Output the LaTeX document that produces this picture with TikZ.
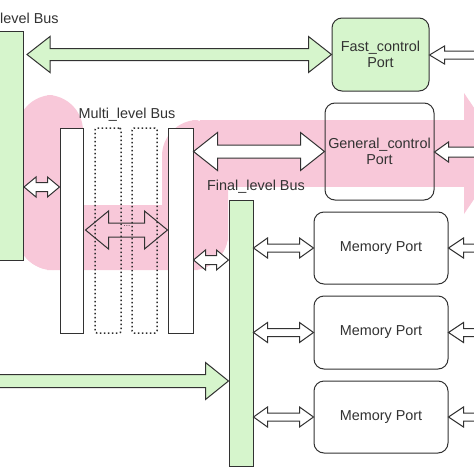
\documentclass[tikz,border=0pt]{standalone}
\usepackage{fontspec}
\setmainfont{Liberation Sans}
\usetikzlibrary{calc}
\definecolor{gfill}{RGB}{214,245,204}
\definecolor{pinkb}{RGB}{248,200,217}
\definecolor{ink}{RGB}{50,50,50}
\tikzset{
 base/.style={draw=ink, line width=1pt},
 gbar/.style={base, fill=gfill, rectangle, inner sep=0pt},
 wbar/.style={base, fill=white, rectangle, inner sep=0pt},
 dbar/.style={draw=ink!90!black, line width=1.5pt, dash pattern=on 1.5pt off 2.5pt, rounded corners=2pt, rectangle, inner sep=0pt},
 port/.style={base, rounded corners=10pt, rectangle, inner sep=0pt, align=center, font=\fontsize{14.4}{16.5}\selectfont, text=ink},
 lbl/.style={inner sep=0pt, font=\fontsize{14.4}{16.5}\selectfont, text=ink},
 wa/.style={base, fill=white, line join=miter},
 ga/.style={base, fill=gfill, line join=miter},
 na/.style={base, line join=miter},
 pinkfill/.style={fill=pinkb, draw=none},
}
\newcommand{\dblarr}[6]{\draw[#6] let \p1=(#1), \p2=(#2) in (\x1,\y1) -- (\x1+#3,\y1+#4) -- (\x1+#3,\y1+#5) -- (\x2-#3,\y1+#5) -- (\x2-#3,\y1+#4) -- (\x2,\y1) -- (\x2-#3,\y1-#4) -- (\x2-#3,\y1-#5) -- (\x1+#3,\y1-#5) -- (\x1+#3,\y1-#4) -- cycle;}
\newcommand{\sglarr}[6]{\draw[#6] let \p1=(#1), \p2=(#2) in (\x1,\y1+#5) -- ({\x2-#3},\y1+#5) -- ({\x2-#3},\y1+#4) -- (\x2,\y1) -- ({\x2-#3},\y1-#4) -- ({\x2-#3},\y1-#5) -- (\x1,\y1-#5) -- cycle;}
\newcommand{\sglarrl}[6]{\draw[#6] let \p1=(#1), \p2=(#2) in (\x1,\y1+#5) -- ({\x2+#3},\y1+#5) -- ({\x2+#3},\y1+#4) -- (\x2,\y1) -- ({\x2+#3},\y1-#4) -- ({\x2+#3},\y1-#5) -- (\x1,\y1-#5) -- cycle;}
\begin{document}
\begin{tikzpicture}[x=1pt,y=-1pt]
\useasboundingbox (0,0) rectangle (474,474);
\clip (0,0) rectangle (474,474);
\fill[white] (0,0) rectangle (474,474);
% pink flow arrow
\fill[pinkfill, rounded corners=36pt] (17,95) rectangle (83,270);
\fill[pinkfill, rounded corners=36pt] (17,205) rectangle (228,270);
\fill[pinkfill, rounded corners=36pt] (162,120) rectangle (228,270);
\fill[pinkfill] (200,120) rectangle (466,187);
\fill[pinkfill] (464,93) -- (505,153.5) -- (464,214) -- cycle;
% buses
\node[gbar, minimum width=25pt, minimum height=229pt, anchor=north west] (tbus) at (-2,31) {};
\node[lbl, anchor=base west] (tlabel) at (0,23) {level Bus};
\node[wbar, minimum width=23pt, minimum height=205pt] (mL) at (71.5,230.5) {};
\node[dbar, minimum width=26pt, minimum height=205pt] (d1) at (108,230.5) {};
\node[dbar, minimum width=25pt, minimum height=205pt] (d2) at (144.5,230.5) {};
\node[wbar, minimum width=25pt, minimum height=205pt] (mR) at (180.5,230.5) {};
\node[lbl] (mlabel) at (127,115) {Multi\_level Bus};
\node[lbl] (flabel) at (256,187) {Final\_level Bus};
\node[gbar, minimum width=24pt, minimum height=266pt] (fbus) at (241,333) {};
% ports
\node[port, fill=gfill, minimum width=97pt, minimum height=73pt] (fast) at (380.5,54.5) {Fast\_control\\Port};
\node[port, minimum width=109pt, minimum height=97pt] (gen) at (379.5,151.5) {General\_control\\Port};
\node[port, fill=white, minimum width=134pt, minimum height=72pt] (m1) at (381,248) {Memory Port};
\node[port, fill=white, minimum width=134pt, minimum height=73pt] (m2) at (381,332.5) {Memory Port};
\node[port, fill=white, minimum width=134pt, minimum height=72pt] (m3) at (381,417) {Memory Port};
% helper coordinates
\coordinate (c1) at (0,187);
\coordinate (c2) at (0,230);
\coordinate (c3) at (0,260);
\coordinate (gs) at (-5,381);
\coordinate (fe) at (490,55);
\coordinate (ge) at (490,152);
% connectors
\dblarr{$(tbus.east |- fast.west)+(3,0)$}{fast.west}{23pt}{18pt}{6pt}{ga}
\sglarrl{fe}{fast.east}{15pt}{9pt}{4pt}{wa}
\dblarr{tbus.east |- c1}{mL.west |- c1}{12pt}{10pt}{4.5pt}{wa}
\dblarr{$(mL.east |- c2)+(2,0)$}{mR.west |- c2}{23pt}{19pt}{7pt}{na}
\node[lbl, font=\fontsize{8}{8}\selectfont] (dots) at (127,226) {...};
\dblarr{mR.east |- gen.west}{gen.west}{24pt}{19pt}{6.5pt}{wa}
\sglarrl{ge}{gen.east}{14pt}{10pt}{5pt}{wa}
\dblarr{mR.east |- c3}{fbus.west |- c3}{12pt}{10pt}{4.5pt}{wa}
\sglarr{gs}{fbus.west |- gs}{23pt}{18.5pt}{6.5pt}{ga}
\dblarr{fbus.east |- m1.west}{m1.west}{14pt}{10pt}{4pt}{wa}
\dblarr{fbus.east |- m2.west}{m2.west}{14pt}{10pt}{4pt}{wa}
\dblarr{fbus.east |- m3.west}{m3.west}{14pt}{10pt}{4pt}{wa}
\sglarrl{$(m1.east)+(40,0)$}{m1.east}{15pt}{10pt}{4pt}{wa}
\sglarrl{$(m2.east)+(40,0)$}{m2.east}{15pt}{10pt}{4pt}{wa}
\sglarrl{$(m3.east)+(40,0)$}{m3.east}{15pt}{10pt}{4pt}{wa}
\end{tikzpicture}
\end{document}
